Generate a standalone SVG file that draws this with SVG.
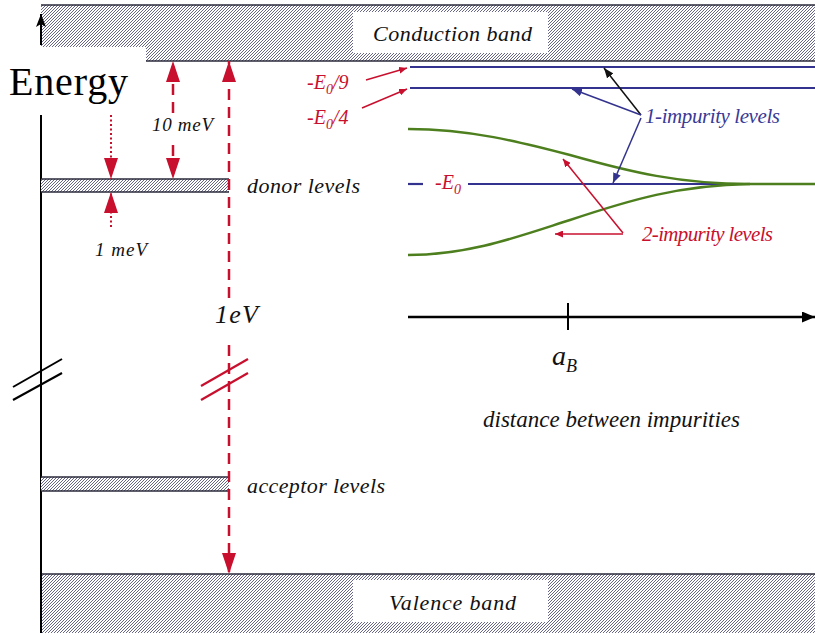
<svg xmlns="http://www.w3.org/2000/svg" width="815" height="633" viewBox="0 0 815 633">
<defs>
<pattern id="hatch" patternUnits="userSpaceOnUse" width="3" height="3">
<rect width="3" height="3" fill="#ffffff"/>
<path d="M-1,1 L1,-1 M0,3 L3,0 M2,4 L4,2" stroke="#55557e" stroke-width="0.9"/>
</pattern>
<marker id="mRedBig" markerUnits="userSpaceOnUse" markerWidth="22" markerHeight="14" refX="21" refY="7" orient="auto">
<path d="M0,0 L21,7 L0,14 Z" fill="#c8102e"/>
</marker>
<marker id="mRedSmall" markerUnits="userSpaceOnUse" markerWidth="9" markerHeight="7" refX="8" refY="3.5" orient="auto">
<path d="M0,0 L8,3.5 L0,7 Z" fill="#c8102e"/>
</marker>
<marker id="mBlue" markerUnits="userSpaceOnUse" markerWidth="11" markerHeight="8" refX="10" refY="4" orient="auto">
<path d="M0,0 L10,4 L0,8 Z" fill="#33338f"/>
</marker>
<marker id="mBlack" markerUnits="userSpaceOnUse" markerWidth="11" markerHeight="8" refX="10" refY="4" orient="auto">
<path d="M0,0 L10,4 L0,8 Z" fill="#111111"/>
</marker>
<marker id="mAxis" markerUnits="userSpaceOnUse" markerWidth="14" markerHeight="11" refX="13" refY="5.5" orient="auto">
<path d="M0,0 L13,5.5 L0,11 Z" fill="#000000"/>
</marker>
<marker id="mAxisUp" markerUnits="userSpaceOnUse" markerWidth="14" markerHeight="10" refX="13" refY="5" orient="auto">
<path d="M0,0 L13,5 L0,10 L3,5 Z" fill="#000000"/>
</marker>
</defs>
<style>
.lbl { font-family: "Liberation Serif", "Times New Roman", serif; font-style: italic; fill: #111111; }
.red { fill: #c8102e; }
.blue { fill: #3a3a96; }
.band { fill: url(#hatch); }
.edge { stroke: #2a2a3a; stroke-width: 1.5; fill: none; }
.dash { stroke: #c8102e; stroke-width: 2.5; stroke-dasharray: 11 7; fill: none; }
.dot { stroke: #c8102e; stroke-width: 2; stroke-dasharray: 2 2.5; fill: none; }
.blv { stroke: #33338f; stroke-width: 2.2; fill: none; }
.grn { stroke: #4d7f1e; stroke-width: 2.5; fill: none; }
</style>
<rect width="815" height="633" fill="#ffffff"/>

<g id="conduction-band">
<rect x="41" y="5" width="774" height="56" class="band"/>
<line x1="41" y1="5" x2="815" y2="5" class="edge"/>
<line x1="146" y1="61" x2="815" y2="61" class="edge"/>
<rect x="0" y="47" width="146" height="68" fill="#ffffff"/>
<rect x="353" y="12" width="195" height="41" fill="#ffffff"/>
<text x="373" y="41" class="lbl" font-size="22" textLength="159">Conduction band</text>
</g>

<g id="valence-band">
<rect x="41" y="574" width="774" height="59" class="band"/>
<line x1="41" y1="574" x2="815" y2="574" class="edge"/>
<rect x="353" y="580" width="195" height="42" fill="#ffffff"/>
<text x="389" y="610" class="lbl" font-size="22" textLength="127">Valence band</text>
</g>

<g id="energy-axis">
<line x1="41" y1="45" x2="41" y2="14" stroke="#000" stroke-width="2" marker-end="url(#mAxisUp)"/>
<line x1="41" y1="115" x2="41" y2="633" stroke="#000" stroke-width="2"/>
<line x1="13" y1="387" x2="62" y2="359" stroke="#000" stroke-width="2"/>
<line x1="13" y1="400" x2="62" y2="373" stroke="#000" stroke-width="2"/>
<text x="9" y="95" font-family="Liberation Serif, Times New Roman, serif" font-size="40" fill="#000" textLength="119">Energy</text>
</g>

<g id="donor-levels">
<rect x="41" y="179" width="188" height="13" class="band"/>
<line x1="41" y1="179" x2="229" y2="179" class="edge"/>
<line x1="41" y1="192" x2="229" y2="192" class="edge"/>
<text x="247" y="193" class="lbl" font-size="22" textLength="113">donor levels</text>
</g>

<g id="acceptor-levels">
<rect x="41" y="477" width="188" height="14" class="band"/>
<line x1="41" y1="477" x2="229" y2="477" class="edge"/>
<line x1="41" y1="491" x2="229" y2="491" class="edge"/>
<text x="247" y="493" class="lbl" font-size="22" textLength="138">acceptor levels</text>
</g>

<g id="one-impurity-levels">
<line x1="410" y1="67" x2="815" y2="67" class="blv"/>
<line x1="410" y1="88" x2="815" y2="88" class="blv"/>
<line x1="408" y1="184" x2="423" y2="184" class="blv"/>
<line x1="468" y1="184" x2="815" y2="184" class="blv"/>
<text x="645" y="123" class="lbl blue" font-size="21" textLength="135">1-impurity levels</text>
</g>

<g id="two-impurity-levels">
<path d="M408,129 C470,129 520,142 570,155 C630,172 680,184 750,184 L815,184" class="grn"/>
<path d="M408,255 C470,255 520,236 570,220 C630,200 680,185 750,184" class="grn"/>
<text x="642" y="241" class="lbl red" font-size="21" textLength="131">2-impurity levels</text>
</g>

<g id="level-labels">
<text x="307" y="89" class="lbl red" font-size="20">-E<tspan font-size="14" dy="5">0</tspan><tspan dy="-5">/9</tspan></text>
<text x="307" y="124" class="lbl red" font-size="20">-E<tspan font-size="14" dy="5">0</tspan><tspan dy="-5">/4</tspan></text>
<text x="435" y="189" class="lbl red" font-size="20">-E<tspan font-size="14" dy="5">0</tspan></text>
</g>

<g id="distance-axis">
<line x1="408" y1="317" x2="815" y2="317" stroke="#000" stroke-width="2.5" marker-end="url(#mAxis)"/>
<line x1="568" y1="303" x2="568" y2="330" stroke="#000" stroke-width="2"/>
<text x="552" y="365" class="lbl" font-size="28">a<tspan font-size="18" dy="7">B</tspan></text>
<text x="483" y="427" class="lbl" font-size="23" textLength="257">distance between impurities</text>
</g>

<g id="energy-scale">
<text x="152" y="131" class="lbl" font-size="19" textLength="61">10 meV</text>
<text x="95" y="256" class="lbl" font-size="19" textLength="52">1 meV</text>
<text x="215" y="323" class="lbl" font-size="26" textLength="43">1eV</text>
</g>

<g id="connectors">
<line x1="229" y1="298" x2="229" y2="61" class="dash" marker-end="url(#mRedBig)"/>
<line x1="229" y1="345" x2="229" y2="574" class="dash" marker-end="url(#mRedBig)"/>
<line x1="201" y1="386" x2="248" y2="359" stroke="#c8102e" stroke-width="2.2"/>
<line x1="201" y1="400" x2="248" y2="373" stroke="#c8102e" stroke-width="2.2"/>
<line x1="173" y1="113" x2="173" y2="61" class="dash" marker-end="url(#mRedBig)"/>
<line x1="173" y1="145" x2="173" y2="179" class="dash" stroke-dasharray="8 5" marker-end="url(#mRedBig)"/>
<line x1="111" y1="115" x2="111" y2="179" class="dot" marker-end="url(#mRedBig)"/>
<line x1="111" y1="227" x2="111" y2="192" class="dot" marker-end="url(#mRedBig)"/>
<line x1="366" y1="80" x2="407" y2="68" stroke="#c8102e" stroke-width="1.5" marker-end="url(#mRedSmall)"/>
<line x1="362" y1="108" x2="407" y2="89" stroke="#c8102e" stroke-width="1.5" marker-end="url(#mRedSmall)"/>
<line x1="641" y1="115" x2="604" y2="68" stroke="#111" stroke-width="1.5" marker-end="url(#mBlack)"/>
<line x1="641" y1="115" x2="572" y2="89" stroke="#33338f" stroke-width="1.5" marker-end="url(#mBlue)"/>
<line x1="641" y1="118" x2="613" y2="183" stroke="#33338f" stroke-width="1.5" marker-end="url(#mBlue)"/>
<line x1="623" y1="233" x2="563" y2="159" stroke="#c8102e" stroke-width="1.5" marker-end="url(#mRedSmall)"/>
<line x1="623" y1="234" x2="555" y2="234" stroke="#c8102e" stroke-width="1.5" marker-end="url(#mRedSmall)"/>
</g>
</svg>
